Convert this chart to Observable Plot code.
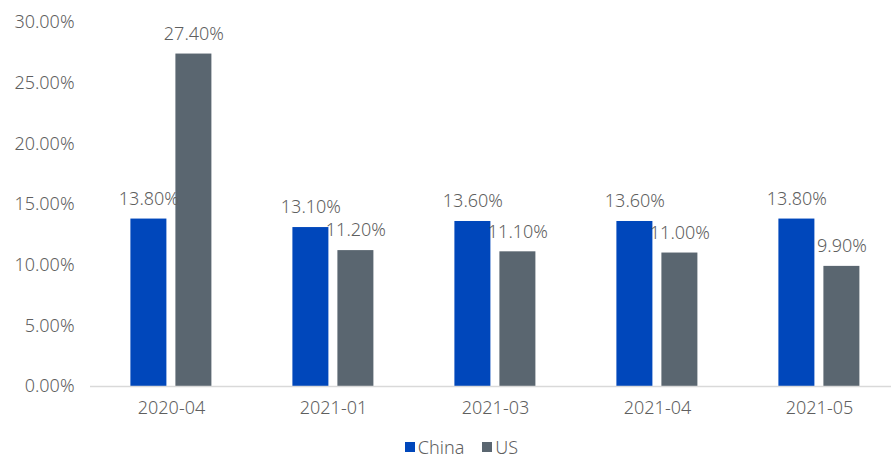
<!DOCTYPE html>
<html>
<head>
<meta charset="utf-8">
<script src="https://cdn.jsdelivr.net/npm/d3@7"></script>
<script src="https://cdn.jsdelivr.net/npm/@observablehq/plot@0.6"></script>
<style>
  html, body { margin: 0; padding: 0; background: white; overflow: hidden; }
  #chart svg { display: block; }
  .lg-swatches { justify-content: center; }
  .lg-swatch > svg { margin-right: 3px !important; }
</style>
</head>
<body>
<div id="chart"></div>
<script>
const categories = ["2020-04", "2021-01", "2021-03", "2021-04", "2021-05"];
const series = ["China", "US"];
const china = [13.8, 13.1, 13.6, 13.6, 13.8];
const us = [27.4, 11.2, 11.1, 11.0, 9.9];
const yTicks = [0, 5, 10, 15, 20, 25, 30];
const colors = ["#0047BB", "#5A6670"];

const data = categories.flatMap((c, i) => [
  {category: c, series: "China", value: china[i]},
  {category: c, series: "US", value: us[i]}
]);

const fmt = d => d.toFixed(2) + "%";
const font = "'Noto Sans', 'Open Sans', sans-serif";

const plot = Plot.plot({
  width: 891,
  height: 434,
  marginLeft: 88.6,
  marginRight: -9.6,
  marginTop: 22,
  marginBottom: 48,
  style: {fontFamily: font, fontSize: "18px", fontWeight: 300, color: "#5f5f5f", background: "white"},
  fx: {domain: categories, padding: 0, label: null, axis: "bottom", tickSize: 0, tickPadding: 15},
  x: {domain: series, axis: null, paddingInner: 0.2, paddingOuter: 0.875},
  y: {domain: [0, 30], ticks: yTicks, tickFormat: fmt, tickSize: 0, tickPadding: 16, label: null},
  color: {domain: series, range: colors},
  marks: [
    Plot.barY(data, {fx: "category", x: "series", y: "value", fill: "series"}),
    Plot.ruleY([0], {stroke: "#d9d9d9", strokeWidth: 1.5}),
    Plot.text(data, {fx: "category", x: "series", y: "value", text: d => fmt(d.value), dy: -20, lineAnchor: "middle", fill: "#5f5f5f", fontSize: 18, fontWeight: 300})
  ]
});
document.getElementById("chart").appendChild(plot);

const legend = Plot.legend({
  color: {type: "ordinal", domain: series, range: colors},
  swatchSize: 10,
  className: "lg",
  style: {fontFamily: font, fontSize: "18px", fontWeight: 300, color: "#5f5f5f"}
});
legend.style.justifyContent = "center";
legend.style.paddingLeft = "50px";
legend.style.boxSizing = "border-box";
legend.style.minHeight = "0";
legend.style.height = "26px";
legend.style.lineHeight = "26px";
legend.style.marginTop = "0px";
legend.style.overflow = "visible";
document.getElementById("chart").appendChild(legend);
</script>
</body>
</html>
